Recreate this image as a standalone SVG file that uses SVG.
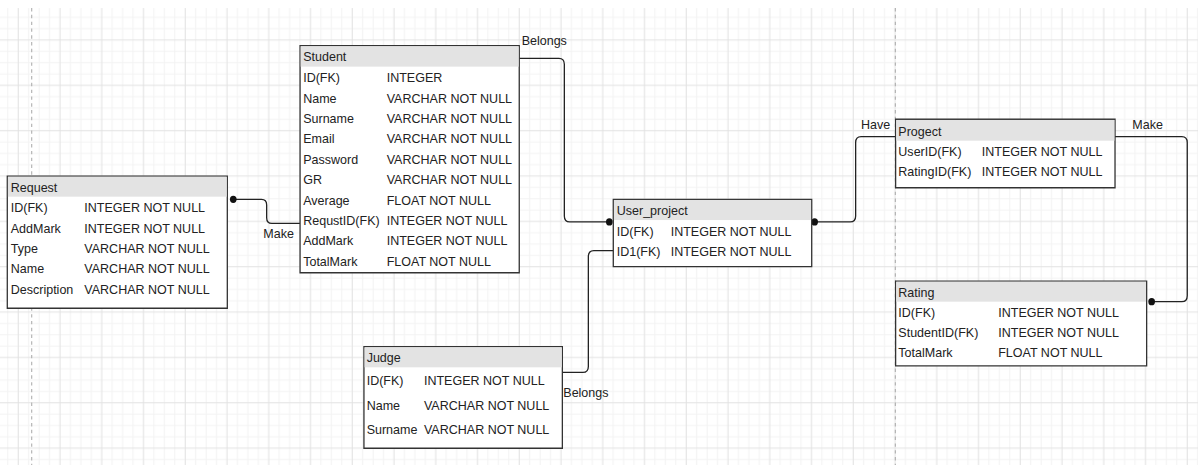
<svg xmlns="http://www.w3.org/2000/svg" width="1198" height="465" viewBox="0 0 1198 465">
<style>
.tb{fill:#ffffff;stroke:#333333;stroke-width:1.3;vector-effect:non-scaling-stroke}
.hd{fill:#e3e3e3;stroke:none}
.t{font-family:"Liberation Sans",Arial,sans-serif;font-size:12px;fill:#222222}
.c{fill:none;stroke:#222222;stroke-width:1.3;vector-effect:non-scaling-stroke}
.dot{fill:#111111}
.pg{stroke:#aaaaaa;stroke-width:1;stroke-dasharray:3 3;fill:none}
</style>
<defs>
<pattern id="grid" patternUnits="userSpaceOnUse" x="-5" y="-5" width="40" height="40">
<path d="M15,0V40M25,0V40M35,0V40M0,15H40M0,25H40M0,35H40" stroke="#f3f3f3" stroke-width="1" fill="none"/>
<path d="M5,0V40M0,5H40" stroke="#e2e2e2" stroke-width="1" fill="none"/>
</pattern>
</defs>
<rect x="0" y="0" width="1198" height="465" fill="#ffffff"/>
<g transform="matrix(1.04375 0 0 1.13375 18.25 -5.35)">
<rect x="-20" y="11.8" width="1160" height="410" fill="url(#grid)"/>
<path class="pg" d="M12.9,11.8V420M840.3,11.8V420"/>

<g id="connectors">
<path class="c" d="M206,180.5H233Q238,180.5 238,185.5V196.7Q238,201.7 243,201.7H270"/>
<circle class="dot" cx="206" cy="180.5" r="3.2"/>
<path class="c" d="M480,56.2H518Q523.2,56.2 523.2,61.4V195.3Q523.2,200.5 528.4,200.5H566.3"/>
<circle class="dot" cx="566.3" cy="200.5" r="3.2"/>
<path class="c" d="M763,200.5H797Q802.3,200.5 802.3,195.2V130.5Q802.3,125.3 807.5,125.3H840.6"/>
<circle class="dot" cx="763" cy="200.5" r="3.2"/>
<path class="c" d="M1050.8,125.3H1114.8Q1120,125.3 1120,130.5V265.6Q1120,270.8 1114.8,270.8H1085.9"/>
<circle class="dot" cx="1085.9" cy="270.8" r="3.2"/>
<path class="c" d="M521.3,333.1H541Q546.2,333.1 546.2,327.9V231Q546.2,225.8 551.4,225.8H570.1"/>
<text class="t" x="482.3" y="44.6">Belongs</text>
<text class="t" x="234.8" y="214.5">Make</text>
<text class="t" x="807.4" y="118.9">Have</text>
<text class="t" x="1067.4" y="118.4">Make</text>
<text class="t" x="522.2" y="354.7">Belongs</text>
</g>

<g id="student">
<rect class="tb" x="270" y="45" width="210" height="200.3"/>
<rect class="hd" x="270.6" y="45.6" width="208.8" height="17.9"/>
<text class="t" x="273" y="58.4">Student</text>
<text class="t" x="273" y="77.2">ID(FK)</text><text class="t" x="353" y="77.2">INTEGER</text>
<text class="t" x="273" y="95.2">Name</text><text class="t" x="353" y="95.2">VARCHAR NOT NULL</text>
<text class="t" x="273" y="113.2">Surname</text><text class="t" x="353" y="113.2">VARCHAR NOT NULL</text>
<text class="t" x="273" y="131.2">Email</text><text class="t" x="353" y="131.2">VARCHAR NOT NULL</text>
<text class="t" x="273" y="149.2">Password</text><text class="t" x="353" y="149.2">VARCHAR NOT NULL</text>
<text class="t" x="273" y="167.2">GR</text><text class="t" x="353" y="167.2">VARCHAR NOT NULL</text>
<text class="t" x="273" y="185.2">Average</text><text class="t" x="353" y="185.2">FLOAT NOT NULL</text>
<text class="t" x="273" y="203.2">RequstID(FK)</text><text class="t" x="353" y="203.2">INTEGER NOT NULL</text>
<text class="t" x="273" y="221.2">AddMark</text><text class="t" x="353" y="221.2">INTEGER NOT NULL</text>
<text class="t" x="273" y="239.2">TotalMark</text><text class="t" x="353" y="239.2">FLOAT NOT NULL</text>
</g>

<g id="request">
<rect class="tb" x="-10.5" y="160" width="210.8" height="116.6"/>
<rect class="hd" x="-9.9" y="160.6" width="209.6" height="17.6"/>
<text class="t" x="-7.2" y="173.7">Request</text>
<text class="t" x="-7.2" y="191.9">ID(FK)</text><text class="t" x="63.3" y="191.9">INTEGER NOT NULL</text>
<text class="t" x="-7.2" y="209.8">AddMark</text><text class="t" x="63.3" y="209.8">INTEGER NOT NULL</text>
<text class="t" x="-7.2" y="227.7">Type</text><text class="t" x="63.3" y="227.7">VARCHAR NOT NULL</text>
<text class="t" x="-7.2" y="245.6">Name</text><text class="t" x="63.3" y="245.6">VARCHAR NOT NULL</text>
<text class="t" x="-7.2" y="263.6">Description</text><text class="t" x="63.3" y="263.6">VARCHAR NOT NULL</text>
</g>

<g id="user_project">
<rect class="tb" x="570.1" y="180.5" width="190.1" height="59.4"/>
<rect class="hd" x="570.7" y="181.1" width="188.9" height="17.7"/>
<text class="t" x="573.4" y="194.2">User_project</text>
<text class="t" x="573.4" y="212.5">ID(FK)</text><text class="t" x="625.1" y="212.5">INTEGER NOT NULL</text>
<text class="t" x="573.4" y="230.1">ID1(FK)</text><text class="t" x="625.1" y="230.1">INTEGER NOT NULL</text>
</g>

<g id="judge">
<rect class="tb" x="331.2" y="310.5" width="190.1" height="89.6"/>
<rect class="hd" x="331.8" y="311.1" width="188.9" height="17.6"/>
<text class="t" x="333.8" y="323.6">Judge</text>
<text class="t" x="333.8" y="344.2">ID(FK)</text><text class="t" x="388.7" y="344.2">INTEGER NOT NULL</text>
<text class="t" x="333.8" y="366.2">Name</text><text class="t" x="388.7" y="366.2">VARCHAR NOT NULL</text>
<text class="t" x="333.8" y="387.7">Surname</text><text class="t" x="388.7" y="387.7">VARCHAR NOT NULL</text>
</g>

<g id="progect">
<rect class="tb" x="840.6" y="109.9" width="210.2" height="60.4"/>
<rect class="hd" x="841.2" y="110.5" width="209" height="18.3"/>
<text class="t" x="843.2" y="124.3">Progect</text>
<text class="t" x="843.2" y="141.9">UserID(FK)</text><text class="t" x="923.1" y="141.9">INTEGER NOT NULL</text>
<text class="t" x="843.2" y="159.8">RatingID(FK)</text><text class="t" x="923.1" y="159.8">INTEGER NOT NULL</text>
</g>

<g id="rating">
<rect class="tb" x="840.6" y="252.6" width="240.5" height="74.9"/>
<rect class="hd" x="841.2" y="253.2" width="239.3" height="17.6"/>
<text class="t" x="843.2" y="266.3">Rating</text>
<text class="t" x="843.2" y="284.5">ID(FK)</text><text class="t" x="938.9" y="284.5">INTEGER NOT NULL</text>
<text class="t" x="843.2" y="302.1">StudentID(FK)</text><text class="t" x="938.9" y="302.1">INTEGER NOT NULL</text>
<text class="t" x="843.2" y="319.8">TotalMark</text><text class="t" x="938.9" y="319.8">FLOAT NOT NULL</text>
</g>
</g>
</svg>
